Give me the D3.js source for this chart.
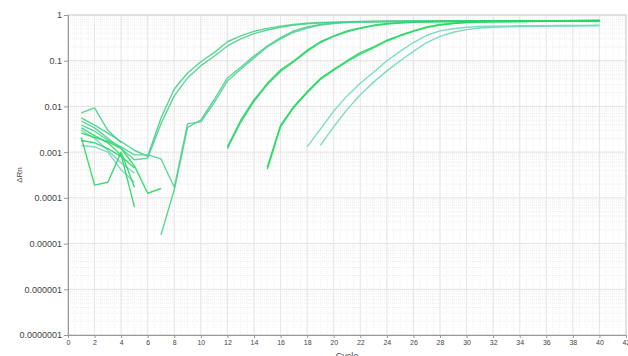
<!DOCTYPE html>
<html>
<head>
<meta charset="utf-8">
<script src="https://cdn.jsdelivr.net/npm/d3@7"></script>
<style>
body { margin: 0; background: #fff; }
svg { display: block; font-family: "Liberation Sans", Arial, sans-serif; }
.tick text { fill: #444; }
</style>
</head>
<body>
<svg></svg>
<script>

var cycles = [1,2,3,4,5,6,7,8,9,10,11,12,13,14,15,16,17,18,19,20,21,22,23,24,25,26,27,28,29,30,31,32,33,34,35,36,37,38,39,40]

var a1 = [0.0056,0.0039,0.0026,0.0017,0.0011,0.00081,0.0056,0.024,0.054,0.095,0.15,0.26,0.35,0.44,0.51,0.57,0.62,0.66,0.69,0.70,0.71,0.72,0.72,0.73,0.73,0.73,0.74,0.74,0.74,0.74,0.74,0.75,0.75,0.75,0.75,0.75,0.75,0.76,0.76,0.76]
var a2 = [0.0048,0.0034,0.0020,0.0012,0.00068,0.00074,0.0042,0.017,0.042,0.078,0.125,0.21,0.30,0.39,0.47,0.54,0.60,0.64,0.67,0.69,0.70,0.71,0.72,0.72,0.73,0.73,0.73,0.74,0.74,0.74,0.74,0.74,0.75,0.75,0.75,0.75,0.75,0.75,0.75,0.76]
var b1 = [0.0072,0.0093,0.0030,0.0016,null,null,0.0000155,0.00015,0.0035,0.005,0.014,0.042,0.072,0.126,0.21,0.32,0.45,0.55,0.62,0.67,0.70,0.71,0.72,0.72,0.73,0.73,0.73,0.74,0.74,0.74,0.74,0.74,0.75,0.75,0.75,0.75,0.75,0.75,0.76,0.76]
var b2 = [0.0039,0.0029,0.0018,0.0013,0.00087,0.00087,0.00071,0.00017,0.0042,0.0046,0.012,0.036,0.065,0.115,0.20,0.30,0.42,0.52,0.60,0.65,0.68,0.70,0.71,0.72,0.72,0.73,0.73,0.73,0.74,0.74,0.74,0.74,0.74,0.75,0.75,0.75,0.75,0.75,0.75,0.76]
var c1 = [0.0021,0.00019,0.00022,0.0010,0.00017,null,null,null,null,null,null,0.0013,0.005,0.014,0.032,0.063,0.10,0.17,0.26,0.35,0.45,0.52,0.60,0.65,0.68,0.70,0.71,0.72,0.72,0.73,0.73,0.73,0.74,0.74,0.74,0.74,0.75,0.75,0.75,0.75]
var c2 = [0.0034,0.0023,0.0016,0.00087,0.000063,null,null,null,null,null,null,0.0012,0.0045,0.013,0.030,0.058,0.095,0.16,0.25,0.34,0.43,0.51,0.58,0.63,0.67,0.69,0.70,0.71,0.72,0.72,0.73,0.73,0.73,0.74,0.74,0.74,0.74,0.75,0.75,0.75]
var d1 = [0.0026,0.0021,0.0017,0.0012,0.0005,0.000126,0.00016,null,null,null,null,null,null,null,0.00047,0.0039,0.010,0.021,0.041,0.065,0.10,0.15,0.20,0.28,0.36,0.45,0.55,0.62,0.66,0.69,0.70,0.71,0.72,0.72,0.73,0.73,0.74,0.74,0.74,0.75]
var d2 = [0.0018,0.0016,0.0012,0.00081,0.00045,null,null,null,null,null,null,null,null,null,0.00042,0.0036,0.0095,0.020,0.039,0.062,0.095,0.14,0.19,0.27,0.35,0.44,0.53,0.60,0.65,0.68,0.70,0.71,0.71,0.72,0.72,0.73,0.73,0.74,0.74,0.74]
var e1 = [0.003,0.002,0.0011,0.00058,0.00035,null,null,null,null,null,null,null,null,null,null,null,null,0.0013,0.0032,0.0079,0.017,0.032,0.056,0.10,0.16,0.25,0.36,0.45,0.50,0.54,0.56,0.57,0.57,0.58,0.58,0.58,0.59,0.59,0.59,0.60]
var e2 = [0.0014,0.0013,0.001,0.00041,0.00022,null,null,null,null,null,null,null,null,null,null,null,null,null,0.0014,0.0036,0.0085,0.018,0.034,0.060,0.10,0.16,0.25,0.34,0.42,0.48,0.52,0.54,0.55,0.56,0.56,0.57,0.57,0.57,0.58,0.58]

var yTickValues = [1, 0.1, 0.01, 0.001, 0.0001, 0.00001, 0.000001, 0.0000001]
var yTickLabels = ["1", "0.1", "0.01", "0.001", "0.0001", "0.00001", "0.000001", "0.0000001"]
var xTickValues = [0,2,4,6,8,10,12,14,16,18,20,22,24,26,28,30,32,34,36,38,40,42]

var margins = {"top": 15, "left": 68, "bottom": 21, "right": 2}
var width = 628 - margins.left - margins.right;
var height = 356 - margins.top - margins.bottom;

var svg = d3.select("svg").attr("width", 628).attr("height", 356)

var xScale = d3.scaleLinear().domain([0, 42]).range([0, width])
var yScale = d3.scaleLog().domain([1e-7, 1]).range([height, 0])

var g = svg.append("g").attr("transform", "translate(" + margins.left + "," + margins.top + ")")

// minor grid
var minorY = []
yTickValues.slice(0, 7).forEach(function(t){
  for (var k = 2; k <= 9; k++) minorY.push(t / 10 * k)
})
g.append("g").selectAll("line").data(minorY).enter().append("line")
  .attr("x1", 0).attr("x2", width)
  .attr("y1", function(d){return yScale(d)}).attr("y2", function(d){return yScale(d)})
  .style("stroke", "#ececec").style("stroke-dasharray", "1,1")

var minorX = []
for (var i = 0; i < 42; i += 0.5) minorX.push(i)
g.append("g").selectAll("line").data(minorX).enter().append("line")
  .attr("x1", function(d){return xScale(d)}).attr("x2", function(d){return xScale(d)})
  .attr("y1", 0).attr("y2", height)
  .style("stroke", "#f1f1f1").style("stroke-dasharray", "1,1")

// major grid
g.append("g").selectAll("line").data(yTickValues).enter().append("line")
  .attr("x1", 0).attr("x2", width)
  .attr("y1", function(d){return yScale(d)}).attr("y2", function(d){return yScale(d)})
  .style("stroke", "#e2e2e2")
g.append("g").selectAll("line").data(xTickValues).enter().append("line")
  .attr("x1", function(d){return xScale(d)}).attr("x2", function(d){return xScale(d)})
  .attr("y1", 0).attr("y2", height)
  .style("stroke", "#e6e6e6")

// frame
g.append("rect").attr("width", width).attr("height", height)
  .style("fill", "none").style("stroke", "#cfcfcf")

var yAxis = d3.axisLeft(yScale).tickValues(yTickValues).tickSize(4)
  .tickFormat(function(d, i){return yTickLabels[i]})
g.append("g").call(yAxis).call(function(a){
  a.select(".domain").style("stroke", "#999")
  a.selectAll(".tick line").style("stroke", "#999")
  a.selectAll("text").style("font-size", "9px").attr("x", -6)
})

var xAxis = d3.axisBottom(xScale).tickValues(xTickValues).tickSize(3)
g.append("g").attr("transform", "translate(0," + height + ")").call(xAxis).call(function(a){
  a.select(".domain").style("stroke", "#999")
  a.selectAll(".tick line").style("stroke", "#999")
  a.selectAll("text").style("font-size", "7px").attr("y", 5)
})

svg.append("text").attr("x", margins.left + width / 2).attr("y", 359)
  .attr("text-anchor", "middle").style("font-size", "9px").style("fill", "#444").text("Cycle")
svg.append("text").attr("transform", "translate(22," + (margins.top + height / 2) + ") rotate(-90)")
  .attr("text-anchor", "middle").style("font-size", "8px").style("fill", "#444").text("ΔRn")

// amplification curves
var series = [
  {"values": e1, "color": "#6fd8bd"},
  {"values": e2, "color": "#6fd8bd"},
  {"values": a1, "color": "#45d088"},
  {"values": a2, "color": "#4ccf8f"},
  {"values": b1, "color": "#47cf8a"},
  {"values": b2, "color": "#52cf95"},
  {"values": c1, "color": "#2bd468"},
  {"values": c2, "color": "#2fd36c"},
  {"values": d1, "color": "#22d95c"},
  {"values": d2, "color": "#26d862"}
]

var line = d3.line()
  .defined(function(d){return d[1] != null})
  .x(function(d){return xScale(d[0])})
  .y(function(d){return yScale(d[1])})

g.append("g").selectAll("path").data(series).enter().append("path")
  .attr("d", function(s){return line(cycles.map(function(c, i){return [c, s.values[i]]}))})
  .style("fill", "none")
  .style("stroke", function(s){return s.color})
  .style("stroke-width", 1.4)
  .style("stroke-linejoin", "round")
  .style("opacity", 0.9)

</script>
</body>
</html>
